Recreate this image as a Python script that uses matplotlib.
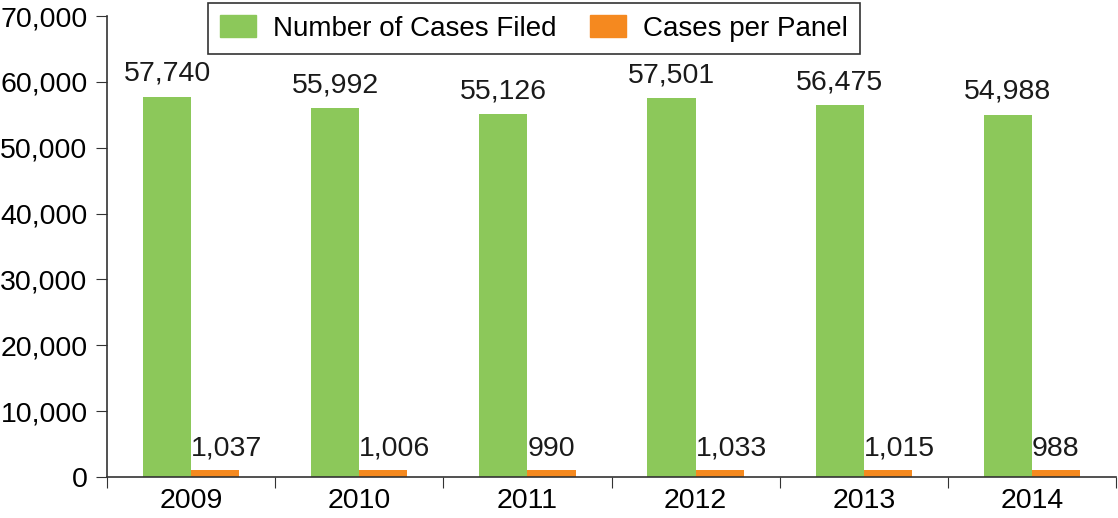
import matplotlib.pyplot as plt
from matplotlib.patches import Patch

# data
years = ["2009", "2010", "2011", "2012", "2013", "2014"]
cases_filed = [57740, 55992, 55126, 57501, 56475, 54988]
cases_per_panel = [1037, 1006, 990, 1033, 1015, 988]

green = "#8cc85a"
orange = "#f5891f"

plt.rcParams['font.family'] = ['Liberation Sans', 'DejaVu Sans']
fs = 20.5

fig = plt.figure(figsize=(11.18, 5.18), dpi=100)
ax = fig.add_axes([107/1118, 41/518, 1009/1118, 461/518])

x = list(range(len(years)))
w = 0.286
ax.bar([i - w/2 for i in x], cases_filed, width=w, color=green)
ax.bar([i + w/2 for i in x], cases_per_panel, width=w, color=orange)

for i in x:
    ax.text(i - w/2, cases_filed[i] + 1500, f"{cases_filed[i]:,}",
            ha="center", va="bottom", fontsize=fs, color="#1a1a1a")
    ax.text(i, cases_per_panel[i] + 1300, f"{cases_per_panel[i]:,}",
            ha="left", va="bottom", fontsize=fs, color="#1a1a1a")

ax.set_xlim(-0.5, len(years) - 0.5)
ax.set_ylim(0, 70000)
ax.set_yticks(range(0, 70001, 10000))
ax.set_yticklabels([f"{v:,}" for v in range(0, 70001, 10000)], fontsize=fs)

# ticks at category boundaries, labels at centres
ax.set_xticks([i - 0.5 for i in range(len(years) + 1)])
ax.set_xticklabels([])
ax.set_xticks(x, minor=True)
ax.set_xticklabels(years, minor=True, fontsize=fs)
ax.tick_params(axis="x", which="minor", length=0, pad=8)
ax.tick_params(axis="x", which="major", length=8, direction="out", color="#333333")
ax.tick_params(axis="y", length=8, direction="out", color="#333333", pad=6)

for s in ["top", "right"]:
    ax.spines[s].set_visible(False)
for s in ["left", "bottom"]:
    ax.spines[s].set_color("#333333")
    ax.spines[s].set_linewidth(1.2)

handles = [Patch(color=green, label="Number of Cases Filed"),
           Patch(color=orange, label="Cases per Panel")]
leg = fig.legend(handles=handles, loc="upper left", bbox_to_anchor=(205/1118, 1.0),
                 ncol=2, fontsize=20, frameon=True, fancybox=False,
                 edgecolor="black", handlelength=1.3, handleheight=0.8,
                 handletextpad=0.6, columnspacing=1.2, borderpad=0.45,
                 borderaxespad=0.1)
leg.get_frame().set_linewidth(1.2)

fig.savefig("out.png", dpi=100)
